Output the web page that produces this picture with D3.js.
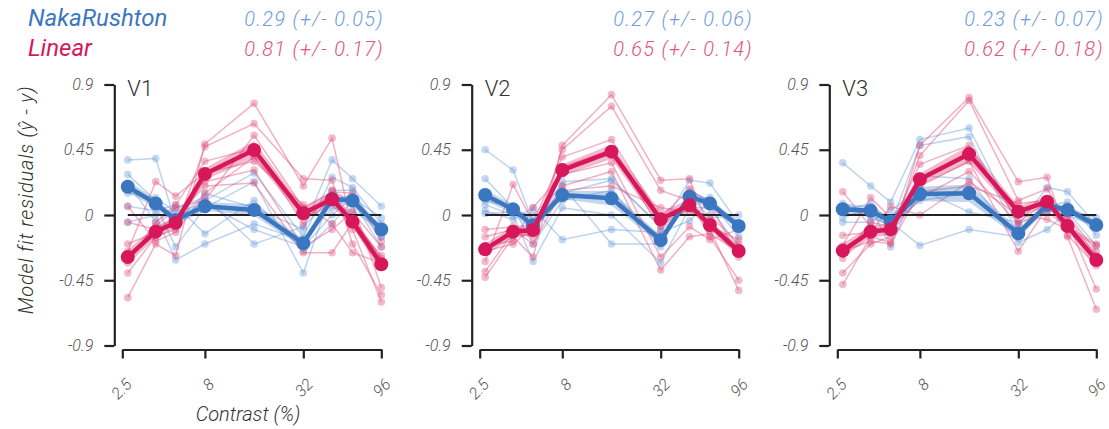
<!DOCTYPE html>
<html>
<head>
<meta charset="utf-8">
<script src="https://d3js.org/d3.v7.min.js"></script>
<style>
  html, body { margin: 0; padding: 0; background: #fff; }
  svg text { font-family: Roboto, "Liberation Sans", sans-serif; }
</style>
</head>
<body>
<div id="chart"></div>
<script>
// contrast levels (%) and axis ticks
var contrasts = [2.7, 4, 5.3, 8, 16, 32, 48, 64, 96];
var xTicks = [2.5, 8, 32, 96];
var yTicks = [-0.9, -0.45, 0, 0.45, 0.9];
var areas = ["V1", "V2", "V3"];
var nrScore = ["0.29 (+/- 0.05)", "0.27 (+/- 0.06)", "0.23 (+/- 0.07)"];
var linScore = ["0.81 (+/- 0.17)", "0.65 (+/- 0.14)", "0.62 (+/- 0.18)"];

// group means
var nrMeanV1 = [0.195, 0.08, -0.035, 0.06, 0.035, -0.195, 0.11, 0.10, -0.10];
var linMeanV1 = [-0.29, -0.115, -0.053, 0.283, 0.448, 0.012, 0.108, -0.046, -0.34];
var nrMeanV2 = [0.138, 0.039, -0.07, 0.138, 0.115, -0.172, 0.126, 0.08, -0.076];
var linMeanV2 = [-0.237, -0.115, -0.103, 0.31, 0.437, -0.03, 0.069, -0.069, -0.248];
var nrMeanV3 = [0.04, 0.03, -0.045, 0.145, 0.15, -0.127, 0.07, 0.035, -0.069];
var linMeanV3 = [-0.246, -0.115, -0.099, 0.246, 0.42, 0.023, 0.092, -0.076, -0.31];

// standard error of the mean
var nrSemV1 = [0.04, 0.03, 0.03, 0.03, 0.04, 0.03, 0.03, 0.03, 0.03];
var linSemV1 = [0.05, 0.04, 0.04, 0.04, 0.06, 0.04, 0.05, 0.04, 0.05];
var nrSemV2 = [0.04, 0.03, 0.04, 0.03, 0.05, 0.03, 0.03, 0.03, 0.03];
var linSemV2 = [0.04, 0.04, 0.04, 0.04, 0.05, 0.05, 0.04, 0.03, 0.04];
var nrSemV3 = [0.04, 0.03, 0.03, 0.05, 0.06, 0.03, 0.03, 0.02, 0.03];
var linSemV3 = [0.05, 0.04, 0.04, 0.04, 0.06, 0.04, 0.03, 0.03, 0.05];

// individual subjects
var nrSubjV1 = [
  [0.38, 0.39, -0.05, 0.15, 0.05, -0.10, 0.38, 0.25, 0.06],
  [0.28, 0.10, -0.06, 0.10, 0.29, -0.15, 0.26, 0.19, -0.06],
  [0.20, 0.07, -0.22, 0.05, 0.23, -0.40, 0.17, 0.17, -0.15],
  [0.06, 0.03, 0.07, -0.13, 0.10, -0.25, -0.06, 0.10, -0.22],
  [-0.05, 0.00, -0.31, -0.20, -0.06, -0.18, 0.05, 0.03, -0.10],
  [0.15, 0.12, 0.02, 0.08, -0.10, -0.22, 0.00, 0.12, -0.02],
  [0.22, -0.05, 0.05, 0.12, -0.20, -0.08, 0.12, 0.08, -0.15]
];
var linSubjV1 = [
  [-0.57, -0.20, -0.28, 0.49, 0.77, 0.20, 0.53, -0.10, -0.60],
  [-0.40, -0.15, -0.10, 0.47, 0.63, 0.25, 0.24, -0.20, -0.55],
  [-0.33, -0.05, 0.07, 0.37, 0.46, -0.06, 0.17, 0.08, -0.50],
  [-0.25, 0.23, 0.13, 0.29, 0.37, 0.07, -0.06, -0.26, -0.33],
  [-0.20, -0.12, -0.05, 0.23, 0.31, -0.22, -0.10, 0.02, -0.22],
  [-0.05, -0.10, -0.02, 0.20, 0.22, -0.26, -0.26, -0.05, -0.28],
  [0.06, -0.18, -0.12, 0.15, 0.40, 0.02, 0.12, -0.02, -0.30],
  [-0.30, -0.08, 0.05, 0.10, 0.55, 0.05, 0.16, 0.15, -0.18]
];
var nrSubjV2 = [
  [0.45, 0.31, -0.05, 0.15, 0.24, -0.08, 0.24, 0.22, -0.06],
  [0.25, 0.05, -0.20, 0.10, 0.17, -0.22, 0.17, 0.10, -0.15],
  [0.07, 0.00, -0.32, 0.05, 0.00, -0.33, 0.05, 0.05, -0.22],
  [0.03, -0.03, 0.05, -0.17, -0.10, -0.12, -0.04, 0.10, -0.06],
  [0.01, 0.02, 0.00, 0.20, -0.20, -0.20, 0.14, -0.02, 0.00],
  [0.10, 0.05, -0.10, 0.23, 0.25, -0.08, 0.10, 0.12, -0.10]
];
var linSubjV2 = [
  [-0.43, -0.15, -0.29, 0.48, 0.83, 0.24, 0.25, -0.10, -0.52],
  [-0.39, -0.12, -0.15, 0.45, 0.75, 0.17, 0.10, -0.15, -0.45],
  [-0.32, 0.21, -0.05, 0.40, 0.52, -0.02, 0.18, 0.08, -0.29],
  [-0.25, -0.20, -0.08, 0.33, 0.45, -0.10, 0.05, -0.08, -0.17],
  [-0.21, -0.18, 0.05, 0.28, 0.36, -0.29, -0.08, -0.17, -0.10],
  [-0.10, -0.08, -0.12, 0.20, 0.30, -0.38, -0.15, -0.13, -0.25],
  [-0.15, -0.10, -0.20, 0.17, 0.20, 0.05, 0.02, 0.00, -0.20]
];
var nrSubjV3 = [
  [0.36, 0.20, 0.09, 0.52, 0.60, -0.07, 0.19, 0.16, -0.07],
  [0.06, -0.02, -0.07, 0.48, 0.54, -0.14, 0.06, 0.09, -0.14],
  [-0.02, 0.05, -0.22, 0.27, 0.25, -0.19, -0.10, 0.02, -0.21],
  [-0.05, -0.05, 0.03, 0.18, 0.02, -0.05, 0.02, 0.04, -0.02],
  [0.03, 0.08, -0.05, -0.21, -0.10, -0.15, 0.05, 0.06, -0.05],
  [0.08, 0.00, -0.08, 0.10, 0.15, -0.12, 0.08, 0.00, -0.08]
];
var linSubjV3 = [
  [-0.48, -0.15, -0.19, 0.48, 0.81, 0.23, 0.26, -0.15, -0.65],
  [-0.40, -0.20, -0.15, 0.41, 0.79, 0.10, 0.18, -0.05, -0.51],
  [-0.30, -0.05, -0.08, 0.35, 0.48, -0.05, 0.09, -0.14, -0.35],
  [-0.21, 0.12, -0.02, 0.20, 0.37, -0.25, 0.05, -0.02, -0.28],
  [-0.14, -0.12, 0.06, 0.00, 0.23, 0.00, -0.03, -0.10, -0.21],
  [0.16, -0.08, -0.12, 0.12, 0.30, -0.06, 0.02, -0.08, -0.20],
  [-0.25, -0.18, -0.20, 0.16, 0.20, 0.08, 0.10, 0.00, -0.25]
];

var blue = "#3b77c1", red = "#d6185a";
var blueLight = "#6f9ddb", redLight = "#e2527f";

var panels = [
  {name: "V1", nr: nrMeanV1, lin: linMeanV1, nrSem: nrSemV1, linSem: linSemV1, nrS: nrSubjV1, linS: linSubjV1},
  {name: "V2", nr: nrMeanV2, lin: linMeanV2, nrSem: nrSemV2, linSem: linSemV2, nrS: nrSubjV2, linS: linSubjV2},
  {name: "V3", nr: nrMeanV3, lin: linMeanV3, nrSem: nrSemV3, linSem: linSemV3, nrS: nrSubjV3, linS: linSubjV3}
];

var W = 1109, H = 429;
var svg = d3.select("#chart").append("svg").attr("width", W).attr("height", H);

var axisX = [114.3, 471.7, 829.3];   // y-axis position of each panel
var y = d3.scaleLinear().domain([-0.9, 0.9]).range([345.5, 84.5]);
var xAxisY = 349.5;
var ink = "#222";
var tickCol = "#555";

panels.forEach(function(p, i) {
  var x0 = axisX[i];
  var x = d3.scaleLog().domain([2.5, 96]).range([x0 + 8, x0 + 267]);
  var g = svg.append("g");

  // y axis
  var ya = g.append("g").attr("transform", "translate(" + x0 + ",0)")
    .call(d3.axisLeft(y).tickValues(yTicks).tickSize(10).tickSizeOuter(0).tickPadding(11)
      .tickFormat(function(d) { return String(d); }));
  ya.select(".domain").attr("stroke", ink).attr("stroke-width", 2.2);
  ya.selectAll(".tick line").attr("stroke", ink).attr("stroke-width", 2.2);
  ya.selectAll(".tick text").attr("fill", tickCol).style("font-size", "16px")
    .style("font-style", "italic").style("font-weight", 300).style("font-family", "Roboto, sans-serif");

  // x axis
  var xa = g.append("g").attr("transform", "translate(0," + xAxisY + ")")
    .call(d3.axisBottom(x).tickValues(xTicks).tickSize(9).tickSizeOuter(0)
      .tickFormat(function(d) { return String(d); }));
  xa.select(".domain").attr("stroke", ink).attr("stroke-width", 2.2);
  xa.selectAll(".tick line").attr("stroke", ink).attr("stroke-width", 2.2);
  xa.selectAll(".tick text").attr("fill", tickCol).style("font-size", "16px")
    .style("font-style", "italic").style("font-weight", 300).style("font-family", "Roboto, sans-serif")
    .attr("x", 0).attr("y", 0).attr("dy", 0).attr("text-anchor", "end")
    .attr("transform", "translate(10,36) rotate(-45)");

  // area label
  g.append("text").attr("x", x0 + 13).attr("y", 96).text(p.name)
    .attr("fill", "#333").style("font-size", "22px").style("font-weight", 300);

  var line = d3.line().x(function(d, j) { return x(contrasts[j]); }).y(function(d) { return y(d); });
  var band = d3.area().x(function(d, j) { return x(contrasts[j]); })
    .y0(function(d) { return y(d[0] - d[1]); }).y1(function(d) { return y(d[0] + d[1]); });

  function subjects(rows, col) {
    rows.forEach(function(r) {
      g.append("path").attr("d", line(r)).attr("fill", "none")
        .attr("stroke", col).attr("stroke-opacity", 0.45).attr("stroke-width", 1.5);
      g.selectAll(null).data(r).enter().append("circle")
        .attr("cx", function(d, j) { return x(contrasts[j]); })
        .attr("cy", function(d) { return y(d); })
        .attr("r", 3.8).attr("fill", col).attr("fill-opacity", 0.4);
    });
  }
  subjects(p.nrS, blueLight);
  subjects(p.linS, redLight);

  // error bands
  g.append("path").attr("d", band(p.nr.map(function(v, j) { return [v, p.nrSem[j]]; })))
    .attr("fill", blue).attr("fill-opacity", 0.3);
  g.append("path").attr("d", band(p.lin.map(function(v, j) { return [v, p.linSem[j]]; })))
    .attr("fill", red).attr("fill-opacity", 0.3);

  // zero line
  g.append("line").attr("x1", x(contrasts[0])).attr("x2", x(contrasts[contrasts.length - 1]))
    .attr("y1", y(0)).attr("y2", y(0)).attr("stroke", ink).attr("stroke-width", 2);

  function meanLine(vals, col) {
    g.append("path").attr("d", line(vals)).attr("fill", "none")
      .attr("stroke", col).attr("stroke-width", 4.5).attr("stroke-linejoin", "round");
    g.selectAll(null).data(vals).enter().append("circle")
      .attr("cx", function(d, j) { return x(contrasts[j]); })
      .attr("cy", function(d) { return y(d); })
      .attr("r", 7).attr("fill", col);
  }
  meanLine(p.nr, blue);
  meanLine(p.lin, red);
});

// scores per panel
var scoreRight = [384, 753, 1104];
scoreRight.forEach(function(xr, i) {
  svg.append("text").attr("x", xr).attr("y", 26).attr("text-anchor", "end").text(nrScore[i])
    .attr("fill", blueLight).style("font-size", "20px").style("font-style", "italic")
    .style("font-weight", 300).style("letter-spacing", "1.3px");
  svg.append("text").attr("x", xr).attr("y", 56).attr("text-anchor", "end").text(linScore[i])
    .attr("fill", redLight).style("font-size", "20px").style("font-style", "italic")
    .style("font-weight", 300).style("letter-spacing", "1.3px");
});

// legend
svg.append("text").attr("x", 28).attr("y", 26).text("NakaRushton")
  .attr("fill", blue).style("font-size", "24px").style("font-style", "italic").style("font-weight", 400);
svg.append("text").attr("x", 28).attr("y", 56).text("Linear")
  .attr("fill", red).style("font-size", "24px").style("font-style", "italic").style("font-weight", 400);

// axis titles
svg.append("text").attr("transform", "translate(33,200) rotate(-90)").attr("text-anchor", "middle")
  .text("Model fit residuals (ŷ - y)").attr("fill", "#333")
  .style("font-size", "20px").style("font-style", "italic").style("font-weight", 300)
  .style("letter-spacing", "0.8px");
svg.append("text").attr("x", 248).attr("y", 421).attr("text-anchor", "middle")
  .text("Contrast (%)").attr("fill", "#333")
  .style("font-size", "20px").style("font-style", "italic").style("font-weight", 300);
</script>
</body>
</html>
